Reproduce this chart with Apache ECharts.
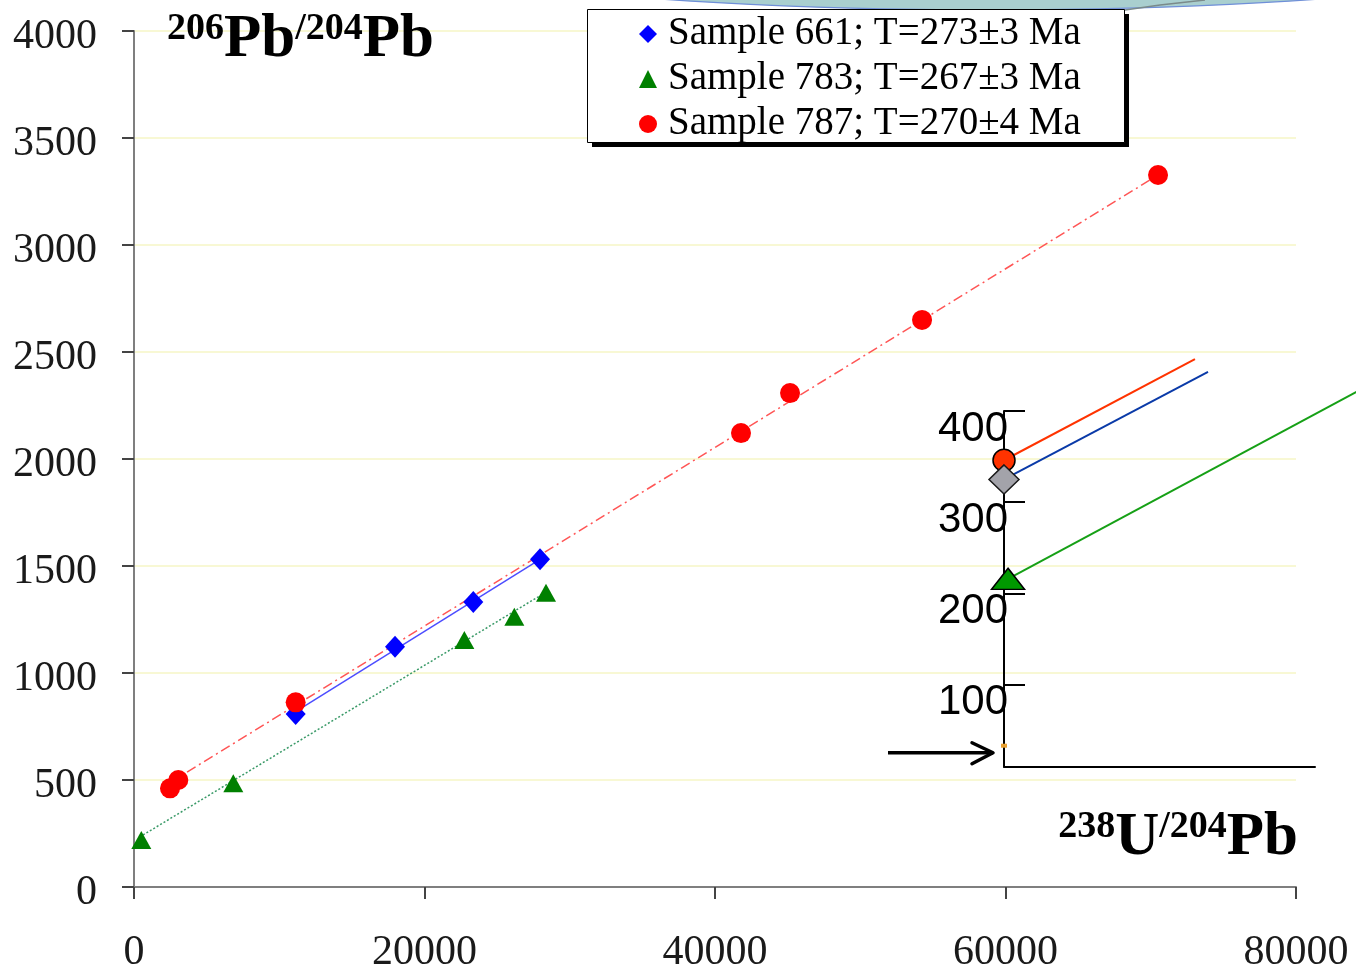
<!DOCTYPE html>
<html>
<head>
<meta charset="utf-8">
<title>Pb isochron</title>
<script src="https://cdn.jsdelivr.net/npm/echarts@6/dist/echarts.min.js"></script>
<style>
  html, body { margin: 0; padding: 0; background: #ffffff; }
  #chart { width: 1356px; height: 970px; }
</style>
</head>
<body>
<div id="chart"></div>
<script>
// ---- data: 238U/204Pb (x) vs 206Pb/204Pb (y) ----
const seriesNames = ['Sample 661; T=273±3 Ma', 'Sample 783; T=267±3 Ma', 'Sample 787; T=270±4 Ma'];

const sample661 = [[11130, 808], [17970, 1123], [23360, 1332], [27953, 1531]];
const sample783 = [[503, 220], [6837, 485], [22743, 1154], [26185, 1263], [28366, 1375]];
const sample787 = [[2479, 461], [3050, 500], [11130, 863], [41790, 2121], [45166, 2308], [54254, 2650], [70502, 3327]];

// isochron end points for each sample
const fit661 = [[11130, 819], [27953, 1531]];
const fit783 = [[620, 243], [28366, 1378]];
const fit787 = [[2479, 488], [70502, 3327]];

const xTicks = { min: 0, max: 80000, step: 20000 };
const yTicks = { min: 0, max: 4000, step: 500 };

// ---- inset: intercepts near the origin ----
const insetTickValues = [100, 200, 300, 400];
const insetRange = { xMin: 0, xMax: 100, xMaxWide: 120, yMin: 10, yMax: 400, yMaxWide: 500 };
const insetPoint661 = [[0, 325]];
const insetPoint783 = [[1.3, 216]];
const insetPoint787 = [[0, 346]];
const insetOrigin = [[0, 33]];
const insetLine661 = [[0, 325], [65.6, 443]];
const insetLine783 = [[1.3, 216], [115, 424]];
const insetLine787 = [[0, 346], [61.4, 457]];

const serif = "'Liberation Serif', 'Times New Roman', serif";
const sans = "'Liberation Sans', Arial, sans-serif";

const insetBox = { left: 1004, top: 411, width: 311, height: 355.7 };
// wider/taller plotting box for the inset lines, on the same scale as the inset axes
const wideW = insetBox.width * (insetRange.xMaxWide - insetRange.xMin) / (insetRange.xMax - insetRange.xMin);
const wideH = insetBox.height * (insetRange.yMaxWide - insetRange.yMin) / (insetRange.yMax - insetRange.yMin);
const wideTop = insetBox.top + insetBox.height - wideH;

const chart = echarts.init(document.getElementById('chart'), null, { renderer: 'canvas' });

const plain = v => String(v);

const option = {
  backgroundColor: '#ffffff',
  animation: false,
  legend: {
    data: [
      { name: seriesNames[0], icon: 'diamond' },
      { name: seriesNames[1], icon: 'triangle' },
      { name: seriesNames[2], icon: 'circle' }
    ],
    orient: 'vertical',
    left: 587,
    top: 12,
    padding: [2, 44, 2, 52],
    itemWidth: 18,
    itemHeight: 18,
    itemGap: 5,
    selectedMode: false,
    z: 20,
    textStyle: {
      fontFamily: serif,
      fontSize: 39,
      color: '#000000',
      lineHeight: 40,
      padding: [0, 0, 0, 6]
    }
  },
  grid: [
    { left: 134, top: 31, width: 1162, height: 856, containLabel: false, outerBoundsMode: 'none' },
    // inset axes
    { left: insetBox.left, top: insetBox.top, width: insetBox.width, height: insetBox.height, containLabel: false, outerBoundsMode: 'none' },
    // inset plotting area
    { left: insetBox.left, top: wideTop, width: wideW, height: wideH, containLabel: false, outerBoundsMode: 'none' }
  ],
  xAxis: [
    {
      gridIndex: 0,
      type: 'value',
      min: xTicks.min, max: xTicks.max, interval: xTicks.step,
      axisLine: { show: true, onZero: false, lineStyle: { color: '#7f7f7f', width: 2 } },
      axisTick: { show: true, length: 12, lineStyle: { color: '#444444', width: 2 } },
      splitLine: { show: false },
      axisLabel: { fontFamily: serif, fontSize: 42, color: '#1a1a1a', margin: 45, formatter: plain }
    },
    {
      gridIndex: 1,
      type: 'value',
      min: insetRange.xMin, max: insetRange.xMax,
      axisLine: { show: true, onZero: false, lineStyle: { color: '#000000', width: 2 } },
      axisTick: { show: false },
      axisLabel: { show: false },
      splitLine: { show: false }
    },
    {
      gridIndex: 2,
      type: 'value',
      min: insetRange.xMin, max: insetRange.xMaxWide,
      show: false
    }
  ],
  yAxis: [
    {
      gridIndex: 0,
      type: 'value',
      min: yTicks.min, max: yTicks.max, interval: yTicks.step,
      axisLine: { show: true, onZero: false, lineStyle: { color: '#7f7f7f', width: 2 } },
      axisTick: { show: true, length: 12, lineStyle: { color: '#444444', width: 2 } },
      splitLine: { show: true, lineStyle: { color: '#f6f6c6', width: 1.5 } },
      axisLabel: {
        fontFamily: serif, fontSize: 42, color: '#1a1a1a', margin: 37,
        verticalAlign: 'top', lineHeight: 12, formatter: plain
      }
    },
    {
      gridIndex: 1,
      type: 'value',
      min: insetRange.yMin, max: insetRange.yMax,
      axisLine: { show: true, onZero: false, lineStyle: { color: '#000000', width: 2 } },
      axisTick: { show: true, inside: true, length: 21, customValues: insetTickValues, lineStyle: { color: '#000000', width: 2 } },
      axisLabel: {
        customValues: insetTickValues,
        fontFamily: sans, fontSize: 42, color: '#000000',
        margin: -4, verticalAlign: 'top', lineHeight: 36
      },
      splitLine: { show: false }
    },
    {
      gridIndex: 2,
      type: 'value',
      min: insetRange.yMin, max: insetRange.yMaxWide,
      show: false
    }
  ],
  series: [
    {
      name: 'isochron 787', type: 'line', data: fit787, xAxisIndex: 0, yAxisIndex: 0,
      showSymbol: false, silent: true, z: 2,
      lineStyle: { color: '#ff5555', width: 1.5, type: [10, 4, 2, 4] }
    },
    {
      name: 'isochron 661', type: 'line', data: fit661, xAxisIndex: 0, yAxisIndex: 0,
      showSymbol: false, silent: true, z: 2,
      lineStyle: { color: '#4d4dff', width: 1.5, type: 'solid' }
    },
    {
      name: 'isochron 783', type: 'line', data: fit783, xAxisIndex: 0, yAxisIndex: 0,
      showSymbol: false, silent: true, z: 2,
      lineStyle: { color: '#3a9a68', width: 1.5, type: [2, 2] }
    },
    {
      name: seriesNames[0], type: 'scatter', data: sample661, xAxisIndex: 0, yAxisIndex: 0,
      symbol: 'diamond', symbolSize: [20, 22], z: 4,
      itemStyle: { color: '#0000ff', opacity: 1 }
    },
    {
      name: seriesNames[1], type: 'scatter', data: sample783, xAxisIndex: 0, yAxisIndex: 0,
      symbol: 'triangle', symbolSize: [20, 18], z: 4,
      itemStyle: { color: '#008000', opacity: 1 }
    },
    {
      name: seriesNames[2], type: 'scatter', data: sample787, xAxisIndex: 0, yAxisIndex: 0,
      symbol: 'circle', symbolSize: 20, z: 5,
      itemStyle: { color: '#ff0000', opacity: 1 }
    },
    // inset
    {
      name: 'inset 787', type: 'line', data: insetLine787, xAxisIndex: 2, yAxisIndex: 2,
      showSymbol: false, silent: true, z: 6,
      lineStyle: { color: '#ff3300', width: 2 }
    },
    {
      name: 'inset 661', type: 'line', data: insetLine661, xAxisIndex: 2, yAxisIndex: 2,
      showSymbol: false, silent: true, z: 6,
      lineStyle: { color: '#0a3aa8', width: 2 }
    },
    {
      name: 'inset 783', type: 'line', data: insetLine783, xAxisIndex: 2, yAxisIndex: 2,
      showSymbol: false, silent: true, z: 6,
      lineStyle: { color: '#16a016', width: 2 }
    },
    {
      name: 'inset origin', type: 'scatter', data: insetOrigin, xAxisIndex: 2, yAxisIndex: 2,
      symbol: 'rect', symbolSize: [6, 4], clip: false, z: 7,
      itemStyle: { color: '#e8a030', opacity: 1 }
    },
    {
      name: 'inset point 787', type: 'scatter', data: insetPoint787, xAxisIndex: 2, yAxisIndex: 2,
      symbol: 'circle', symbolSize: 22, clip: false, z: 7,
      itemStyle: { color: '#ff3300', borderColor: '#000000', borderWidth: 1.5, opacity: 1 }
    },
    {
      name: 'inset point 661', type: 'scatter', data: insetPoint661, xAxisIndex: 2, yAxisIndex: 2,
      symbol: 'diamond', symbolSize: [30, 29], clip: false, z: 8,
      itemStyle: { color: '#a3a3aa', borderColor: '#1a1a1a', borderWidth: 1.5, opacity: 1 }
    },
    {
      name: 'inset point 783', type: 'scatter', data: insetPoint783, xAxisIndex: 2, yAxisIndex: 2,
      symbol: 'triangle', symbolSize: [33, 21], clip: false, z: 8,
      itemStyle: { color: '#009900', borderColor: '#000000', borderWidth: 1.5, opacity: 1 }
    }
  ]
};

chart.setOption(option);

// arrow pointing at the inset origin marker
const tip = chart.convertToPixel({ xAxisIndex: 2, yAxisIndex: 2 }, insetOrigin[0]);
const ax = tip[0] - 11, ay = tip[1] + 7;

const titleRich = {
  s: { fontFamily: serif, fontWeight: 'bold', fontSize: 38, lineHeight: 38, verticalAlign: 'top', fill: '#000' },
  m: { fontFamily: serif, fontWeight: 'bold', fontSize: 61, lineHeight: 61, verticalAlign: 'bottom', fill: '#000' }
};

chart.setOption({
  graphic: [
    // slide ornament at the top edge
    {
      type: 'ellipse', z: 0, silent: true,
      shape: { cx: 990, cy: -83, rx: 700, ry: 93 },
      style: { fill: '#a9cfcf', stroke: '#6f8fd8', lineWidth: 1.2 }
    },
    {
      type: 'polyline', z: 0, silent: true,
      shape: { points: [[1118, 11], [1160, 5], [1205, 0]] },
      style: { stroke: '#7a8a8a', lineWidth: 1.5, fill: null }
    },
    // legend frame with hard drop shadow
    {
      type: 'rect', z: 15, silent: true,
      shape: { x: 592, y: 14, width: 537, height: 133 },
      style: { fill: '#000000' }
    },
    {
      type: 'rect', z: 16, silent: true,
      shape: { x: 587.5, y: 9.5, width: 537, height: 133 },
      style: { fill: '#ffffff', stroke: '#000000', lineWidth: 1 }
    },
    // axis titles
    {
      type: 'text', left: 167, top: 10, z: 10, silent: true,
      style: { text: '{s|206}{m|Pb}{s|/204}{m|Pb}', rich: titleRich }
    },
    {
      type: 'text', right: 1356 - 1298, top: 808, z: 10, silent: true,
      style: { text: '{s|238}{m|U}{s|/204}{m|Pb}', rich: titleRich }
    },
    // arrow
    {
      type: 'group', z: 10, silent: true,
      children: [
        { type: 'line', shape: { x1: ax - 105, y1: ay, x2: ax, y2: ay }, style: { stroke: '#000', lineWidth: 3.5 } },
        { type: 'polyline', shape: { points: [[ax - 21, ay - 10], [ax, ay], [ax - 21, ay + 11]] }, style: { stroke: '#000', lineWidth: 3.5, fill: null, lineCap: 'round', lineJoin: 'round' } }
      ]
    }
  ]
});
</script>
</body>
</html>
